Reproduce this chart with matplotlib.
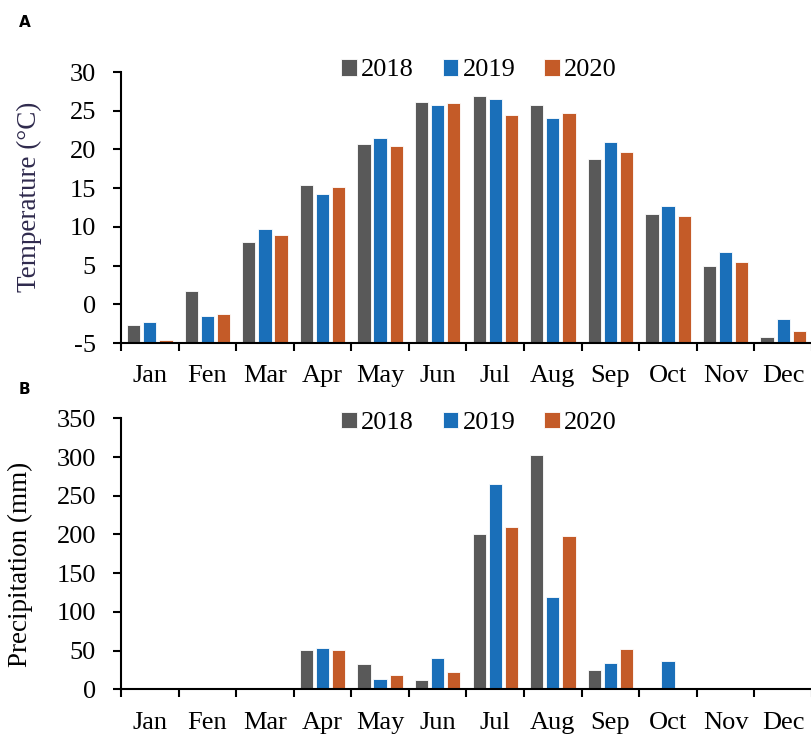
import numpy as np
import matplotlib
matplotlib.use("Agg")
import matplotlib.pyplot as plt
from matplotlib.ticker import FixedLocator

months = ["Jan", "Fen", "Mar", "Apr", "May", "Jun", "Jul", "Aug", "Sep", "Oct", "Nov", "Dec"]
years = ["2018", "2019", "2020"]

temp_2018 = [-2.7, 1.7, 8.0, 15.4, 20.7, 26.1, 26.9, 25.8, 18.8, 11.7, 4.9, -4.2]
temp_2019 = [-2.3, -1.5, 9.7, 14.2, 21.5, 25.7, 26.5, 24.1, 20.9, 12.7, 6.8, -1.9]
temp_2020 = [-4.6, -1.3, 9.0, 15.1, 20.4, 26.0, 24.4, 24.7, 19.7, 11.4, 5.5, -3.4]

prec_2018 = [0, 0, 0, 50.8, 32.7, 11.6, 200.7, 303.0, 24.5, 0.5, 0, 0]
prec_2019 = [0, 0, 0, 53.0, 12.9, 40.0, 264.9, 118.9, 34.4, 36.2, 0, 0]
prec_2020 = [0, 0, 0, 50.8, 18.5, 22.4, 209.7, 197.7, 52.0, 0, 0, 0]

colors = ["#595959", "#1a6fb9", "#c45b28"]

plt.rcParams['font.family'] = ['Liberation Serif', 'DejaVu Serif']
plt.rcParams['axes.unicode_minus'] = False

fig = plt.figure(figsize=(8.12, 7.35), dpi=100)
ax1 = fig.add_axes([0.149, 0.5333, 0.851, 0.3687])
ax2 = fig.add_axes([0.149, 0.0622, 0.851, 0.3687])

x = np.arange(len(months))
off = 0.28
w = 0.23


def draw(ax, series, ylim, step, ylabel, ylabel_color, leg_y, lab_pos):
    base = ylim[0]
    for k, (vals, c) in enumerate(zip(series, colors)):
        # bars rise from the bottom of the axis, as in the original
        ax.bar(x + (k - 1) * off, np.array(vals) - base, bottom=base, width=w,
               color=c, edgecolor="white", linewidth=0.6, label=years[k], zorder=2)
    ax.set_xlim(-0.5, 11.5)
    ax.set_ylim(*ylim)
    ax.set_yticks(np.arange(ylim[0], ylim[1] + 0.1, step))
    ax.set_xticks(x)
    ax.set_xticklabels(months)
    ax.xaxis.set_minor_locator(FixedLocator(np.arange(-0.5, 12, 1)))
    ax.tick_params(axis="x", which="major", length=0, pad=16, labelsize=19)
    ax.tick_params(axis="x", which="minor", length=6, width=1.5, direction="out")
    ax.tick_params(axis="y", length=6, width=1.5, direction="out", labelsize=19, pad=12)
    for s in ["top", "right"]:
        ax.spines[s].set_visible(False)
    ax.spines["left"].set_linewidth(1.5)
    ax.spines["bottom"].set_linewidth(1.5)
    ax.set_ylabel(ylabel, fontsize=19.5, color=ylabel_color)
    ax.yaxis.set_label_coords(lab_pos[0], lab_pos[1])
    ax.legend(loc="center", bbox_to_anchor=(0.518, leg_y), ncol=3, frameon=False,
              fontsize=19, handlelength=0.6, handleheight=0.6, handletextpad=0.15,
              columnspacing=1.1, borderpad=0)


draw(ax1, [temp_2018, temp_2019, temp_2020], (-5, 30), 5, "Temperature (°C)", "#2f2a4d",
     1.007, (-0.114, 0.54))
draw(ax2, [prec_2018, prec_2019, prec_2020], (0, 350), 50, "Precipitation (mm)", "black",
     0.983, (-0.127, 0.46))

fig.text(0.023, 0.97, "A", fontsize=11, fontweight="bold", family="DejaVu Sans", va="center")
fig.text(0.023, 0.47, "B", fontsize=11, fontweight="bold", family="DejaVu Sans", va="center")

fig.savefig("out.png", dpi=100)
